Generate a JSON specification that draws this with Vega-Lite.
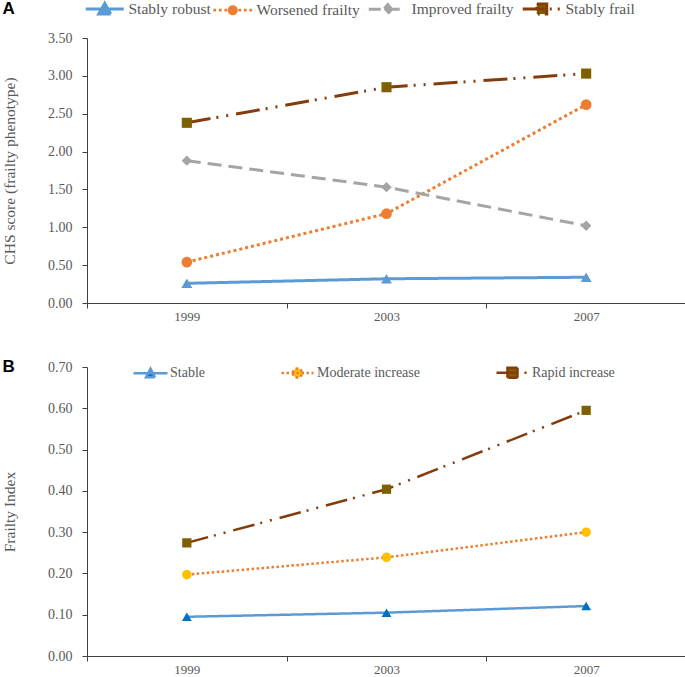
{
  "$schema": "https://vega.github.io/schema/vega-lite/v6.json",
  "padding": {"left": 2, "top": 0, "right": 1, "bottom": 0},
  "background": "white",
  "spacing": 35,
  "config": {
    "view": {"stroke": null},
    "axis": {"grid": false, "domainColor": "#404040", "tickColor": "#404040", "tickSize": 5, "labelFont": "Liberation Serif", "labelFontSize": 14, "labelColor": "#595959", "titleFont": "Liberation Serif", "titleFontSize": 15.5, "titleFontWeight": "normal", "titleColor": "#595959"},
    "title": {"font": "Liberation Sans", "fontSize": 17, "fontWeight": "bold", "color": "#000000", "anchor": "start", "frame": "bounds"}
  },
  "datasets": {
    "a": [
      {"g": "Stably robust", "year": 1999, "v": 0.26},
      {"g": "Stably robust", "year": 2003, "v": 0.32},
      {"g": "Stably robust", "year": 2007, "v": 0.34},
      {"g": "Worsened frailty", "year": 1999, "v": 0.54},
      {"g": "Worsened frailty", "year": 2003, "v": 1.18},
      {"g": "Worsened frailty", "year": 2007, "v": 2.62},
      {"g": "Improved frailty", "year": 1999, "v": 1.88},
      {"g": "Improved frailty", "year": 2003, "v": 1.53},
      {"g": "Improved frailty", "year": 2007, "v": 1.02},
      {"g": "Stably frail", "year": 1999, "v": 2.38},
      {"g": "Stably frail", "year": 2003, "v": 2.85},
      {"g": "Stably frail", "year": 2007, "v": 3.03}
    ],
    "b": [
      {"g": "Stable", "year": 1999, "v": 0.095},
      {"g": "Stable", "year": 2003, "v": 0.105},
      {"g": "Stable", "year": 2007, "v": 0.121},
      {"g": "Moderate increase", "year": 1999, "v": 0.197},
      {"g": "Moderate increase", "year": 2003, "v": 0.239},
      {"g": "Moderate increase", "year": 2007, "v": 0.3},
      {"g": "Rapid increase", "year": 1999, "v": 0.274},
      {"g": "Rapid increase", "year": 2003, "v": 0.404},
      {"g": "Rapid increase", "year": 2007, "v": 0.595}
    ]
  },
  "vconcat": [
    {
      "title": {"text": "A", "offset": 13},
      "width": 599,
      "height": 265,
      "data": {"name": "a"},
      "encoding": {
        "x": {"field": "year", "type": "quantitative", "scale": {"domain": [1997, 2009], "nice": false, "zero": false},
          "axis": {"title": null, "values": [1997, 1999, 2001, 2003, 2005, 2007, 2009], "labelExpr": "datum.value % 4 == 3 ? datum.value + '' : ''", "tickOpacity": {"condition": {"test": "datum.value % 4 == 3", "value": 0}, "value": 1}, "labelPadding": 2, "labelFontSize": 13, "labelOverlap": false, "labelFlush": false}},
        "y": {"field": "v", "type": "quantitative", "scale": {"domain": [0, 3.5], "nice": false},
          "axis": {"title": "CHS score (frailty phenotype)", "values": [0, 0.5, 1, 1.5, 2, 2.5, 3, 3.5], "format": ".2f", "labelPadding": 10, "titlePadding": 30}}
      },
      "layer": [
        {
          "mark": {"type": "line", "strokeWidth": 3},
          "encoding": {
            "stroke": {"field": "g", "type": "nominal",
              "scale": {"domain": ["Stably robust", "Worsened frailty", "Improved frailty", "Stably frail"], "range": ["#5B9BD5", "#ED7D31", "#A5A5A5", "#843C0C"]},
              "legend": {"orient": "none", "legendX": 10, "legendY": -37, "direction": "horizontal", "title": null, "padding": 0, "symbolSize": 400, "columnPadding": 2, "labelOffset": 16, "labelFont": "Liberation Serif", "labelFontSize": 15.5, "labelColor": "#595959", "symbolStrokeWidth": 3,
                "encode": {"symbols": {"update": {
                  "shape": {"signal": "datum.value === 'Stably robust' ? 'M-1.9,0L1.9,0M-0.6,0.5L0.6,0.5L0,-0.55Z' : datum.value === 'Worsened frailty' ? 'M-1.94,-0.14L-1.66,-0.14L-1.66,0.14L-1.94,0.14ZM-1.39,-0.14L-1.11,-0.14L-1.11,0.14L-1.39,0.14ZM-0.84,-0.14L-0.56,-0.14L-0.56,0.14L-0.84,0.14ZM0.56,-0.14L0.84,-0.14L0.84,0.14L0.56,0.14ZM1.11,-0.14L1.39,-0.14L1.39,0.14L1.11,0.14ZM1.66,-0.14L1.94,-0.14L1.94,0.14L1.66,0.14ZM-0.5,0A0.5,0.5,0,1,0,0.5,0A0.5,0.5,0,1,0,-0.5,0Z' : datum.value === 'Improved frailty' ? 'M-1.9,0L1.9,0M0,-0.45L0.4,0L0,0.45L-0.4,0Z' : 'M-1.9,0L1.9,0M-0.5,-0.5L0.5,-0.5L0.5,0.5L-0.5,0.5Z'"},
                  "fill": {"signal": "datum.value === 'Stably robust' ? '#5B9BD5' : datum.value === 'Worsened frailty' ? '#ED7D31' : datum.value === 'Improved frailty' ? '#A5A5A5' : '#7F6000'"},
                  "strokeDash": {"signal": "datum.value === 'Stably robust' ? [1,0] : datum.value === 'Worsened frailty' ? [1,0] : datum.value === 'Improved frailty' ? [12,7] : [22,5,2,6,2,6]"},
                  "size": {"value": 400},
                  "strokeWidth": {"signal": "datum.value === 'Worsened frailty' ? 0 : 3"},
                  "opacity": {"value": 1}
                }}}}
            },
            "strokeDash": {"field": "g", "type": "nominal",
              "scale": {"domain": ["Stably robust", "Worsened frailty", "Improved frailty", "Stably frail", "Stable", "Moderate increase", "Rapid increase"], "range": [[1, 0], [3, 3], [14, 7], [24, 6, 2, 8, 2, 8], [1, 0], [2.5, 2.5], [22, 6, 2, 8, 2, 8]]},
              "legend": null}
          }
        },
        {
          "mark": {"type": "point", "filled": true, "opacity": 1},
          "encoding": {
            "fill": {"field": "g", "type": "nominal",
              "scale": {"domain": ["Stably robust", "Worsened frailty", "Improved frailty", "Stably frail", "Stable", "Moderate increase", "Rapid increase"], "range": ["#5B9BD5", "#ED7D31", "#A5A5A5", "#7F6000", "#0070C0", "#FFC000", "#7F6000"]},
              "legend": null},
            "shape": {"field": "g", "type": "nominal",
              "scale": {"domain": ["Stably robust", "Worsened frailty", "Improved frailty", "Stably frail", "Stable", "Moderate increase", "Rapid increase"], "range": ["triangle-up", "circle", "diamond", "square", "triangle-up", "circle", "square"]},
              "legend": null},
            "size": {"field": "g", "type": "nominal",
              "scale": {"domain": ["Stably robust", "Worsened frailty", "Improved frailty", "Stably frail", "Stable", "Moderate increase", "Rapid increase"], "range": [120, 85, 60, 110, 85, 70, 100]},
              "legend": null}
          }
        }
      ]
    },
    {
      "title": {"text": "B", "offset": -16},
      "width": 599,
      "height": 289,
      "data": {"name": "b"},
      "encoding": {
        "x": {"field": "year", "type": "quantitative", "scale": {"domain": [1997, 2009], "nice": false, "zero": false},
          "axis": {"title": null, "values": [1997, 1999, 2001, 2003, 2005, 2007, 2009], "labelExpr": "datum.value % 4 == 3 ? datum.value + '' : ''", "tickOpacity": {"condition": {"test": "datum.value % 4 == 3", "value": 0}, "value": 1}, "labelPadding": 2, "labelFontSize": 13, "labelOverlap": false, "labelFlush": false}},
        "y": {"field": "v", "type": "quantitative", "scale": {"domain": [0, 0.7], "nice": false},
          "axis": {"title": "Frailty Index", "values": [0, 0.1, 0.2, 0.3, 0.4, 0.5, 0.6, 0.7], "format": ".2f", "labelPadding": 10, "titlePadding": 30}}
      },
      "layer": [
        {
          "mark": {"type": "line", "strokeWidth": 2.5},
          "encoding": {
            "color": {"field": "g", "type": "nominal",
              "scale": {"domain": ["Stable", "Moderate increase", "Rapid increase"], "range": ["#5B9BD5", "#ED7D31", "#843C0C"]},
              "legend": {"orient": "none", "legendX": 52, "legendY": 323, "direction": "horizontal", "title": null, "padding": 0, "symbolSize": 400, "columnPadding": 71, "labelOffset": 8, "labelFont": "Liberation Serif", "labelFontSize": 14, "labelColor": "#595959", "symbolStrokeWidth": 2.5,
                "encode": {"symbols": {"update": {
                  "shape": {"signal": "datum.value === 'Stable' ? 'M-1.7,0L1.7,0M-0.45,0.4L0.45,0.4L0,-0.45Z' : datum.value === 'Moderate increase' ? 'M-1.6,0L1.6,0M-0.45,0A0.45,0.45,0,1,0,0.45,0A0.45,0.45,0,1,0,-0.45,0Z' : 'M-1.6,0L0.3,0M-0.5,-0.5L0.5,-0.5L0.5,0.5L-0.5,0.5ZM1.2,0L1.4,0'"},
                  "fill": {"signal": "datum.value === 'Stable' ? '#0070C0' : datum.value === 'Moderate increase' ? '#FFC000' : '#7F6000'"},
                  "strokeDash": {"signal": "datum.value === 'Stable' ? [1,0] : datum.value === 'Moderate increase' ? [2.5,2.5] : [1,0]"},
                  "size": {"value": 400},
                  "strokeWidth": {"value": 2.5},
                  "opacity": {"value": 1}
                }}}}
            },
            "strokeDash": {"field": "g", "type": "nominal",
              "scale": {"domain": ["Stably robust", "Worsened frailty", "Improved frailty", "Stably frail", "Stable", "Moderate increase", "Rapid increase"], "range": [[1, 0], [3, 3], [14, 7], [24, 6, 2, 8, 2, 8], [1, 0], [2.5, 2.5], [22, 6, 2, 8, 2, 8]]},
              "legend": null}
          }
        },
        {
          "mark": {"type": "point", "filled": true, "opacity": 1},
          "encoding": {
            "fill": {"field": "g", "type": "nominal",
              "scale": {"domain": ["Stably robust", "Worsened frailty", "Improved frailty", "Stably frail", "Stable", "Moderate increase", "Rapid increase"], "range": ["#5B9BD5", "#ED7D31", "#A5A5A5", "#7F6000", "#0070C0", "#FFC000", "#7F6000"]},
              "legend": null},
            "shape": {"field": "g", "type": "nominal",
              "scale": {"domain": ["Stably robust", "Worsened frailty", "Improved frailty", "Stably frail", "Stable", "Moderate increase", "Rapid increase"], "range": ["triangle-up", "circle", "diamond", "square", "triangle-up", "circle", "square"]},
              "legend": null},
            "size": {"field": "g", "type": "nominal",
              "scale": {"domain": ["Stably robust", "Worsened frailty", "Improved frailty", "Stably frail", "Stable", "Moderate increase", "Rapid increase"], "range": [120, 85, 60, 110, 85, 70, 100]},
              "legend": null}
          }
        }
      ]
    }
  ]
}
